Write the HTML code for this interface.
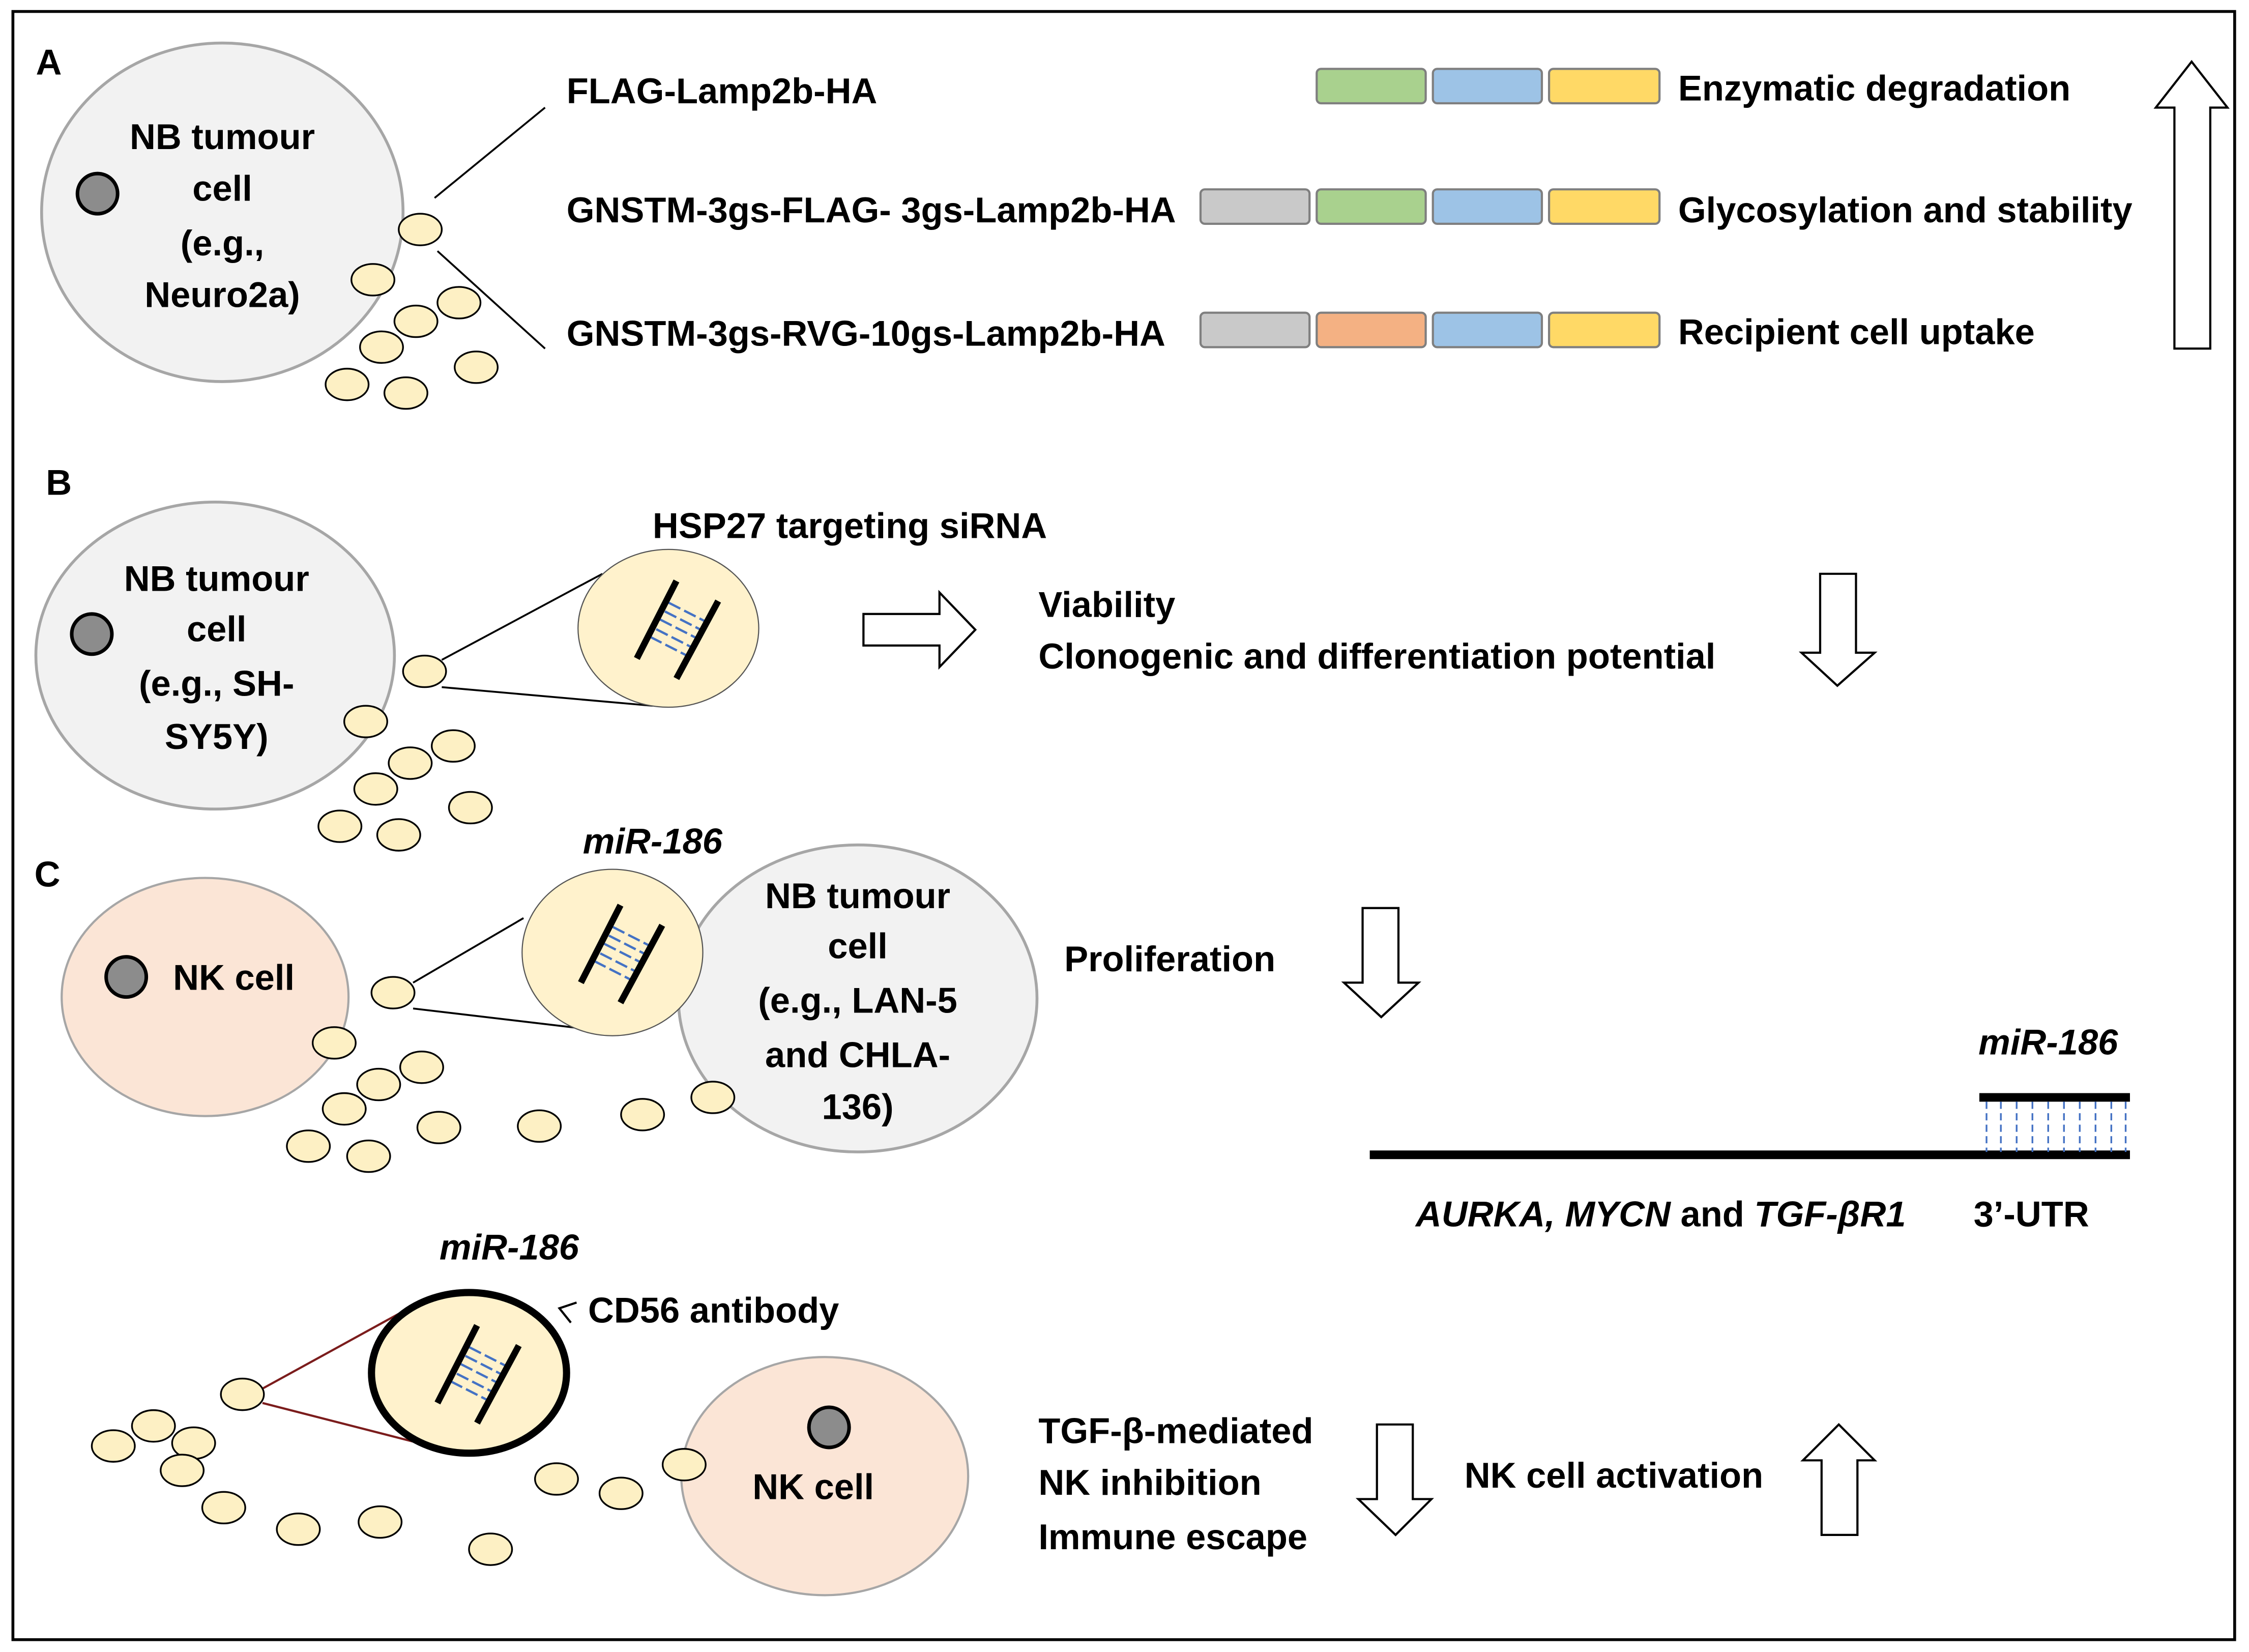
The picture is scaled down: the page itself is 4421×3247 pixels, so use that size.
<!DOCTYPE html>
<html><head><meta charset="utf-8"><style>
html,body{margin:0;padding:0;background:#fff;}
svg{display:block;}
text{font-family:"Liberation Sans",sans-serif;font-weight:bold;font-size:25px;fill:#000;}
.c{text-anchor:middle;}
.i{font-style:italic;}
</style></head><body>
<svg width="4421" height="3247" viewBox="0 0 1568 1151.6" preserveAspectRatio="none" xmlns="http://www.w3.org/2000/svg">
<defs>
<g id="v"><ellipse cx="0" cy="0" rx="15" ry="11" fill="#fdf0c4" stroke="#000" stroke-width="1.2"/></g>
<g id="nuc"><circle cx="0" cy="0" r="14" fill="#8c8c8c" stroke="#000" stroke-width="2.5"/></g>
<g id="si">
<g stroke="#4472c4" stroke-width="1.6" stroke-dasharray="9,3">
<line x1="0.3" y1="-17.8" x2="25.8" y2="-4.8"/>
<line x1="-2.5" y1="-11.8" x2="23" y2="1.2"/>
<line x1="-5.7" y1="-6.1" x2="19.8" y2="6.9"/>
<line x1="-8.5" y1="0.6" x2="17" y2="13.6"/>
<line x1="-12.8" y1="5.9" x2="12.7" y2="18.9"/>
</g>
<line x1="5.6" y1="-33" x2="-22" y2="21" stroke="#000" stroke-width="4.5"/>
<line x1="34.7" y1="-19" x2="5.6" y2="35" stroke="#000" stroke-width="4.5"/>
</g>
</defs>
<rect x="0" y="0" width="1568" height="1152" fill="#fff"/>
<rect x="9" y="8" width="1549" height="1135" fill="none" stroke="#000" stroke-width="2"/>

<text x="25" y="52">A</text>
<ellipse cx="155" cy="148" rx="126" ry="118" fill="#f2f2f2" stroke="#a6a6a6" stroke-width="2"/>
<use href="#nuc" x="68" y="135"/>
<text class="c" x="155" y="104">NB tumour</text>
<text class="c" x="155" y="140">cell</text>
<text class="c" x="155" y="178">(e.g.,</text>
<text class="c" x="155" y="214">Neuro2a)</text>
<use href="#v" x="293" y="160"/><use href="#v" x="260" y="195"/><use href="#v" x="320" y="211"/><use href="#v" x="290" y="224"/><use href="#v" x="266" y="242"/><use href="#v" x="332" y="256"/><use href="#v" x="242" y="268"/><use href="#v" x="283" y="274"/>
<line x1="303" y1="138" x2="380" y2="75" stroke="#000" stroke-width="1.3"/>
<line x1="305" y1="175" x2="380" y2="243" stroke="#000" stroke-width="1.3"/>
<text x="395" y="72">FLAG-Lamp2b-HA</text>
<text x="395" y="155">GNSTM-3gs-FLAG- 3gs-Lamp2b-HA</text>
<text x="395" y="241">GNSTM-3gs-RVG-10gs-Lamp2b-HA</text>
<g stroke="#7f7f7f" stroke-width="1.5">
<rect x="918" y="48" width="76" height="24" rx="3" fill="#a9d18e"/>
<rect x="999" y="48" width="76" height="24" rx="3" fill="#9dc3e6"/>
<rect x="1080" y="48" width="77" height="24" rx="3" fill="#ffd966"/>
<rect x="837" y="132" width="76" height="24" rx="3" fill="#c9c9c9"/>
<rect x="918" y="132" width="76" height="24" rx="3" fill="#a9d18e"/>
<rect x="999" y="132" width="76" height="24" rx="3" fill="#9dc3e6"/>
<rect x="1080" y="132" width="77" height="24" rx="3" fill="#ffd966"/>
<rect x="837" y="218" width="76" height="24" rx="3" fill="#c9c9c9"/>
<rect x="918" y="218" width="76" height="24" rx="3" fill="#f4b183"/>
<rect x="999" y="218" width="76" height="24" rx="3" fill="#9dc3e6"/>
<rect x="1080" y="218" width="77" height="24" rx="3" fill="#ffd966"/>
</g>
<text x="1170" y="70">Enzymatic degradation</text>
<text x="1170" y="155">Glycosylation and stability</text>
<text x="1170" y="240">Recipient cell uptake</text>
<polygon points="1516,243 1541,243 1541,75 1553,75 1528,43 1503,75 1516,75" fill="#fff" stroke="#000" stroke-width="1.5"/>

<text x="32" y="345">B</text>
<ellipse cx="150" cy="457" rx="125" ry="107" fill="#f2f2f2" stroke="#a6a6a6" stroke-width="2"/>
<use href="#nuc" x="64" y="442"/>
<text class="c" x="151" y="412">NB tumour</text>
<text class="c" x="151" y="447">cell</text>
<text class="c" x="151" y="485">(e.g., SH-</text>
<text class="c" x="151" y="522">SY5Y)</text>
<line x1="308" y1="460" x2="420" y2="400" stroke="#000" stroke-width="1.3"/>
<line x1="308" y1="479" x2="455" y2="492" stroke="#000" stroke-width="1.3"/>
<use href="#v" x="296" y="468"/><use href="#v" x="255" y="503"/><use href="#v" x="316" y="520"/><use href="#v" x="286" y="532"/><use href="#v" x="262" y="550"/><use href="#v" x="328" y="563"/><use href="#v" x="237" y="576"/><use href="#v" x="278" y="582"/>
<ellipse cx="466" cy="438" rx="63" ry="55" fill="#fff2cc" stroke="#555" stroke-width="0.8"/>
<use href="#si" x="466" y="438"/>
<text x="455" y="375">HSP27 targeting siRNA</text>
<polygon points="602,428 655,428 655,413 680,439 655,465 655,450 602,450" fill="#fff" stroke="#000" stroke-width="1.5"/>
<text x="724" y="430">Viability</text>
<text x="724" y="466">Clonogenic and differentiation potential</text>
<polygon points="1269,400 1294,400 1294,455 1307,455 1281,478 1256,455 1269,455" fill="#fff" stroke="#000" stroke-width="1.5"/>

<text x="24" y="618">C</text>
<ellipse cx="143" cy="695" rx="100" ry="83" fill="#fbe5d6" stroke="#a6a6a6" stroke-width="1.5"/>
<use href="#nuc" x="88" y="681"/>
<text class="c" x="163" y="690">NK cell</text>
<line x1="288" y1="685" x2="365" y2="640" stroke="#000" stroke-width="1.3"/>
<line x1="288" y1="703" x2="415" y2="718" stroke="#000" stroke-width="1.3"/>
<ellipse cx="598" cy="696" rx="125" ry="107" fill="#f2f2f2" stroke="#a6a6a6" stroke-width="2"/>
<ellipse cx="427" cy="664" rx="63" ry="58" fill="#fff2cc" stroke="#555" stroke-width="0.8"/>
<use href="#si" x="427" y="664"/>
<text class="c i" x="455" y="595">miR-186</text>
<text class="c" x="598" y="633">NB tumour</text>
<text class="c" x="598" y="668">cell</text>
<text class="c" x="598" y="706">(e.g., LAN-5</text>
<text class="c" x="598" y="744">and CHLA-</text>
<text class="c" x="598" y="780">136)</text>
<use href="#v" x="274" y="692"/><use href="#v" x="233" y="727"/><use href="#v" x="294" y="744"/><use href="#v" x="264" y="756"/><use href="#v" x="240" y="773"/><use href="#v" x="376" y="785"/><use href="#v" x="448" y="777"/><use href="#v" x="497" y="765"/><use href="#v" x="306" y="786"/><use href="#v" x="215" y="799"/><use href="#v" x="257" y="806"/>
<text x="742" y="677">Proliferation</text>
<polygon points="950,633 975,633 975,685 989,685 963,709 937,685 950,685" fill="#fff" stroke="#000" stroke-width="1.5"/>
<line x1="955" y1="805" x2="1485" y2="805" stroke="#000" stroke-width="6"/>
<line x1="1380" y1="765" x2="1485" y2="765" stroke="#000" stroke-width="6"/>
<g stroke="#4472c4" stroke-width="1.2" stroke-dasharray="5,3">
<line x1="1385" y1="768" x2="1385" y2="803"/><line x1="1395" y1="768" x2="1395" y2="803"/><line x1="1406" y1="768" x2="1406" y2="803"/><line x1="1417" y1="768" x2="1417" y2="803"/><line x1="1428" y1="768" x2="1428" y2="803"/><line x1="1439" y1="768" x2="1439" y2="803"/><line x1="1450" y1="768" x2="1450" y2="803"/><line x1="1461" y1="768" x2="1461" y2="803"/><line x1="1472" y1="768" x2="1472" y2="803"/><line x1="1482" y1="768" x2="1482" y2="803"/>
</g>
<text class="c i" x="1428" y="735">miR-186</text>
<text x="987" y="855"><tspan font-style="italic">AURKA, MYCN</tspan> and <tspan font-style="italic">TGF-βR1</tspan></text>
<text x="1376" y="855">3’-UTR</text>

<text class="c i" x="355" y="878">miR-186</text>
<line x1="183" y1="968" x2="285" y2="912" stroke="#7b1c1c" stroke-width="1.5"/>
<line x1="183" y1="978" x2="300" y2="1008" stroke="#7b1c1c" stroke-width="1.5"/>
<ellipse cx="327" cy="957" rx="68" ry="56" fill="#fff2cc" stroke="#000" stroke-width="5"/>
<use href="#si" x="327" y="957"/>
<path d="M398,922 L390,912 L402,908" fill="none" stroke="#000" stroke-width="1.5"/>
<text x="410" y="922">CD56 antibody</text>
<ellipse cx="575" cy="1029" rx="100" ry="83" fill="#fbe5d6" stroke="#a6a6a6" stroke-width="1.5"/>
<use href="#nuc" x="578" y="995"/>
<text class="c" x="567" y="1045">NK cell</text>
<use href="#v" x="169" y="972"/><use href="#v" x="107" y="994"/><use href="#v" x="79" y="1008"/><use href="#v" x="135" y="1006"/><use href="#v" x="127" y="1025"/><use href="#v" x="156" y="1051"/><use href="#v" x="208" y="1066"/><use href="#v" x="265" y="1061"/><use href="#v" x="342" y="1080"/><use href="#v" x="388" y="1031"/><use href="#v" x="433" y="1041"/><use href="#v" x="477" y="1021"/>
<text x="724" y="1006">TGF-β-mediated</text>
<text x="724" y="1042">NK inhibition</text>
<text x="724" y="1080">Immune escape</text>
<polygon points="960,993 985,993 985,1045 998,1045 973,1070 947,1045 960,1045" fill="#fff" stroke="#000" stroke-width="1.5"/>
<text x="1021" y="1037">NK cell activation</text>
<polygon points="1270,1070 1295,1070 1295,1018 1307,1018 1282,993 1257,1018 1270,1018" fill="#fff" stroke="#000" stroke-width="1.5"/>
</svg>
</body></html>
